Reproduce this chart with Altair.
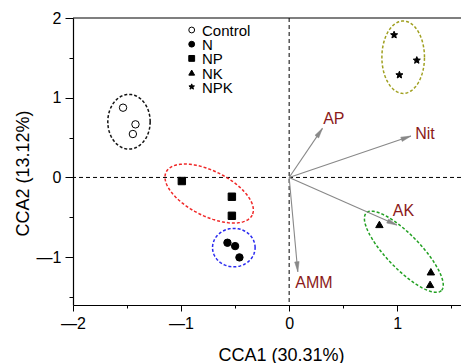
import math
import altair as alt
import pandas as pd
import numpy as np

# ---------------- data ----------------
groups = ["Control", "N", "NP", "NK", "NPK"]
pt_group = ["Control"] * 3 + ["N"] * 3 + ["NP"] * 3 + ["NK"] * 3 + ["NPK"] * 3
pt_x = [-1.537, -1.422, -1.446,
        -0.571, -0.500, -0.460,
        -0.993, -0.530, -0.530,
        0.835, 1.311, 1.304,
        0.971, 1.181, 1.020]
pt_y = [0.875, 0.666, 0.545,
        -0.819, -0.861, -1.003,
        -0.045, -0.242, -0.481,
        -0.589, -1.183, -1.341,
        1.787, 1.469, 1.285]

env_names = ["AP", "Nit", "AK", "AMM"]
env_x = [0.308, 1.127, 0.996, 0.080]
env_y = [0.616, 0.519, -0.597, -1.183]
env_lab_x = [0.315, 1.166, 0.959, 0.056]
env_lab_y = [0.670, 0.478, -0.484, -1.390]

# ellipses: centre and two conjugate semi-axis vectors (data units)
ell_names = ["Control", "N", "NP", "NK", "NPK"]
ell_cx = [-1.482, -0.512, -0.740, 1.061, 1.055]
ell_cy = [0.699, -0.880, -0.202, -0.932, 1.508]
ell_ax = [0.196, 0.197, 0.398, 0.347, 0.197]
ell_ay = [0.0, 0.0, -0.270, -0.487, 0.0]
ell_bx = [0.0, 0.0, -0.093, -0.113, 0.0]
ell_by = [0.343, 0.241, -0.253, -0.148, 0.454]
ell_colors = ["#111111", "#2a2af0", "#f02828", "#22a022", "#a0a020"]

# ---------------- layout ----------------
W, H = 388, 287
XD = [-2, 1.59]
YD = [-1.6, 2]
ux = W / (XD[1] - XD[0])
uy = H / (YD[1] - YD[0])
FONT = "Liberation Sans"

pts = pd.DataFrame({"x": pt_x, "y": pt_y, "g": pt_group})

# star symbol path
star = []
for k in range(10):
    r = 1.0 if k % 2 == 0 else 0.45
    a = math.radians(-90 + 36 * k)
    star.append(f"{r*math.cos(a):.3f},{r*math.sin(a):.3f}")
star_path = "M" + "L".join(star) + "Z"

shapes = ["circle", "circle", "square", "triangle-up", star_path]
fills = ["white", "black", "black", "black", "black"]

xs = alt.Scale(domain=XD, nice=False, zero=False)
ys = alt.Scale(domain=YD, nice=False, zero=False)
shape_scale = alt.Scale(domain=groups, range=shapes)
fill_scale = alt.Scale(domain=groups, range=fills)

xaxis = alt.Axis(
    values=[-2, -1.5, -1, -0.5, 0, 0.5, 1, 1.5],
    labelExpr="datum.value % 1 !== 0 ? '' : (datum.value < 0 ? '\u2014' + abs(datum.value) : datum.value)",
    tickSize={"condition": {"test": "datum.value % 1 !== 0", "value": 3}, "value": 6},
    title="CCA1 (30.31%)", grid=False, labelFlush=False, labelOverlap=False,
    titleX=208, titleY=55, titleBaseline="alphabetic", titleAlign="center",
    labelPadding=4,
)
yaxis = alt.Axis(
    values=[-1.5, -1, -0.5, 0, 0.5, 1, 1.5, 2],
    labelExpr="datum.value % 1 !== 0 ? '' : (datum.value < 0 ? '\u2014' + abs(datum.value) : datum.value)",
    tickSize={"condition": {"test": "datum.value % 1 !== 0", "value": 4}, "value": 8},
    title="CCA2 (13.12%)", grid=False, labelFlush=False, labelOverlap=False,
    titleX=-45, titleY=155, titleBaseline="alphabetic", titleAlign="center", titleAngle=270,
    labelPadding=4,
)

# reference dashed lines + top frame
zero = pd.DataFrame({"v": [0]})
vline = alt.Chart(zero).mark_rule(color="black", strokeDash=[4, 3], strokeWidth=1).encode(
    x=alt.X("v:Q", scale=xs, axis=xaxis))
hline = alt.Chart(zero).mark_rule(color="black", strokeDash=[4, 3], strokeWidth=1).encode(
    y=alt.Y("v:Q", scale=ys, axis=yaxis))
top = alt.Chart(pd.DataFrame({"v": [YD[1]]})).mark_rule(color="black", strokeWidth=1.2).encode(
    y=alt.Y("v:Q", scale=ys))

# ellipses
rows = []
t = np.linspace(0, 2 * np.pi, 121)
for i, n in enumerate(ell_names):
    for j, tt in enumerate(t):
        rows.append({
            "e": n, "o": j,
            "x": ell_cx[i] + ell_ax[i] * np.cos(tt) + ell_bx[i] * np.sin(tt),
            "y": ell_cy[i] + ell_ay[i] * np.cos(tt) + ell_by[i] * np.sin(tt),
        })
ell = alt.Chart(pd.DataFrame(rows)).mark_line(strokeDash=[3, 2], strokeWidth=1.5).encode(
    x=alt.X("x:Q", scale=xs),
    y=alt.Y("y:Q", scale=ys),
    color=alt.Color("e:N", scale=alt.Scale(domain=ell_names, range=ell_colors), legend=None),
    order="o:Q",
)

# environmental arrows
env = pd.DataFrame({"n": env_names, "x": env_x, "y": env_y, "lx": env_lab_x, "ly": env_lab_y})
env["ang"] = [(math.degrees(math.atan2(a * ux, b * uy)) + 360) % 360 for a, b in zip(env_x, env_y)]
env["x0"] = 0.0
env["y0"] = 0.0
shafts = alt.Chart(env).mark_rule(color="#888888", strokeWidth=1.1).encode(
    x=alt.X("x0:Q", scale=xs), y=alt.Y("y0:Q", scale=ys), x2="x:Q", y2="y:Q")
heads = alt.Chart(env).mark_point(
    shape="M0,0L0.45,2L-0.45,2Z", filled=True, fill="#888888", stroke="#888888", strokeWidth=0.5,
    size=100, opacity=1
).encode(x=alt.X("x:Q", scale=xs), y=alt.Y("y:Q", scale=ys), angle=alt.Angle("ang:Q", scale=None))
labels = alt.Chart(env).mark_text(
    align="left", baseline="alphabetic", font=FONT, fontSize=16, color="#8b1a1a"
).encode(x=alt.X("lx:Q", scale=xs), y=alt.Y("ly:Q", scale=ys), text="n:N")

# sample points
points = alt.Chart(pts).mark_point(filled=True, stroke="black", strokeWidth=1, size=55, opacity=1).encode(
    x=alt.X("x:Q", scale=xs),
    y=alt.Y("y:Q", scale=ys),
    shape=alt.Shape("g:N", scale=shape_scale, legend=None),
    fill=alt.Fill("g:N", scale=fill_scale, legend=None),
)

# in-plot legend (symbol column and label column, placed from pixel layout)
LEG_SYM_PX, LEG_TXT_PX, LEG_TOP_PX, LEG_STEP_PX = 191.7, 202.0, 30.0, 14.2
leg_df = pd.DataFrame({"g": groups})
leg_df["sx"] = XD[0] + (LEG_SYM_PX - 73) / ux
leg_df["tx"] = XD[0] + (LEG_TXT_PX - 73) / ux
leg_df["ly"] = [YD[1] - (LEG_TOP_PX + LEG_STEP_PX * i - 18) / uy for i in range(len(groups))]
leg_sym = alt.Chart(leg_df).mark_point(filled=True, stroke="black", strokeWidth=1, size=34, opacity=1).encode(
    x=alt.X("sx:Q", scale=xs), y=alt.Y("ly:Q", scale=ys),
    shape=alt.Shape("g:N", scale=shape_scale, legend=None),
    fill=alt.Fill("g:N", scale=fill_scale, legend=None),
)
leg_txt = alt.Chart(leg_df).mark_text(
    align="left", baseline="middle", font=FONT, fontSize=15, color="black", dy=1
).encode(x=alt.X("tx:Q", scale=xs), y=alt.Y("ly:Q", scale=ys), text="g:N")

chart = alt.layer(vline, hline, top, ell, shafts, heads, labels, points, leg_sym, leg_txt).properties(
    width=W, height=H,
    autosize=alt.AutoSizeParams(type="none"),
    padding={"left": 73, "top": 18, "right": 0, "bottom": 58},
    background="white",
).configure_view(stroke=None).configure_axis(
    domainColor="black", tickColor="black", labelColor="black", titleColor="black",
    labelFont=FONT, titleFont=FONT, labelFontSize=16, titleFontSize=18,
    titleFontWeight="normal", domainWidth=1.2, tickWidth=1,
)

chart.save("out.html", embed_options={"renderer": "svg", "actions": False})
